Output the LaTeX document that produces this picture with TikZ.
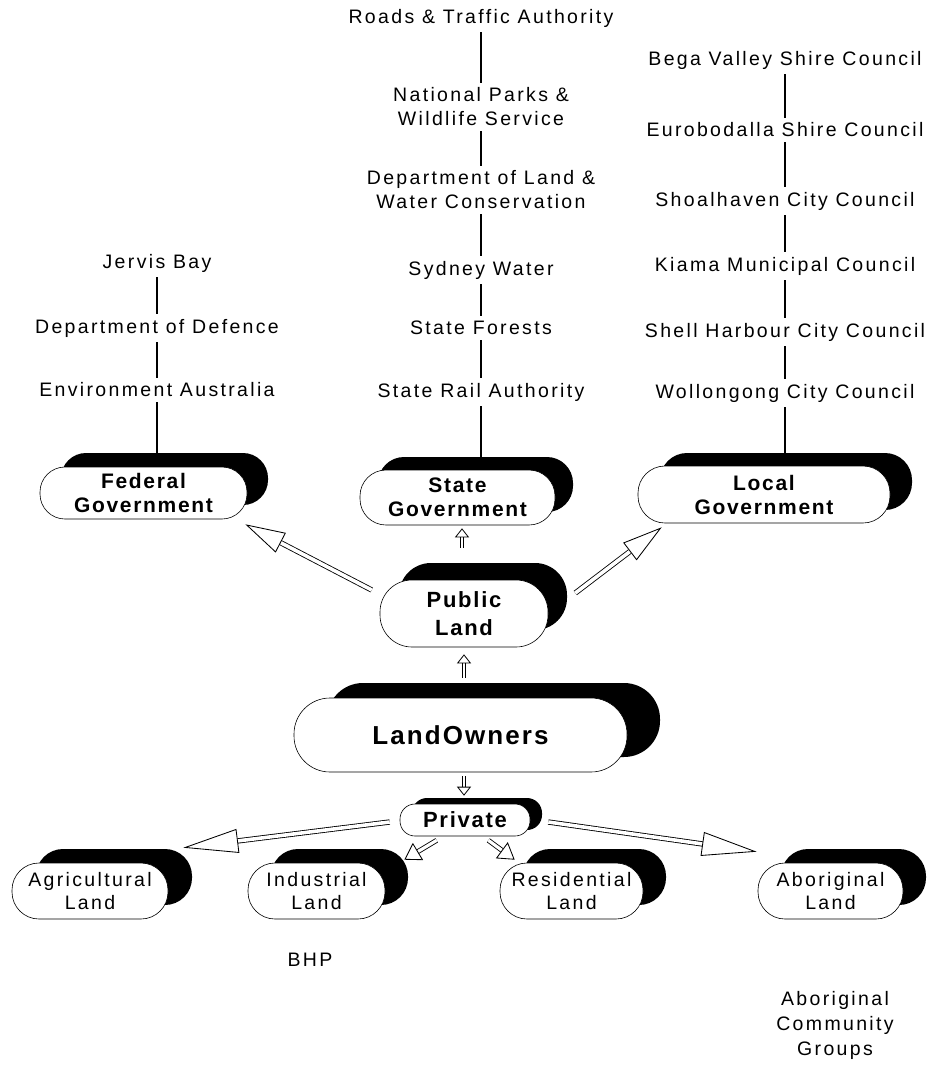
\documentclass[tikz,border=0pt]{standalone}
\usepackage{fontspec}
\setmainfont{Liberation Sans}
\newfontfamily\lab{Liberation Sans}[LetterSpace=12]
\newfontfamily\labb{Liberation Sans}[LetterSpace=8]
\usetikzlibrary{arrows.meta,shadows,calc}
\begin{document}
\begin{tikzpicture}[x=1pt,y=-1pt,
  txt/.style={font=\lab\fontsize{19.5}{24}\selectfont, align=center, inner sep=5pt},
  pill/.style={draw, fill=white, line width=0.6pt, inner sep=0pt, align=center},
  boldf/.style={font=\labb\bfseries\fontsize{21}{24}\selectfont},
  regf/.style={font=\lab\fontsize{19.5}{23.5}\selectfont},
  shad/.style 2 args={drop shadow={shadow xshift=#1pt,shadow yshift=#2pt,fill=black,opacity=1}},
  link/.style={line width=2.3pt},
  bigarrow/.style={double=white, double distance=3.6pt, line width=0.85pt,
    -{Triangle[open, fill=white, length=40pt, width=22pt, line width=0.85pt]}},
  longarrow/.style={double=white, double distance=3.6pt, line width=0.85pt,
    -{Triangle[open, fill=white, length=55pt, width=24pt, line width=0.85pt]}},
  midarrow/.style={double=white, double distance=3.2pt, line width=0.85pt,
    -{Triangle[open, fill=white, length=16pt, width=20pt, line width=0.85pt]}},
  smallarrow/.style={double=white, double distance=2.4pt, line width=0.8pt,
    -{Triangle[open, fill=white, length=9pt, width=14pt, line width=0.8pt]}}
]
\fill[white] (0,0) rectangle (927,1073);
\path[use as bounding box] (0,0) rectangle (927,1073);

% State column
\node[txt] (rta) at (481,18) {Roads \& Traffic Authority};
\node[txt] (npws) at (481,107) {National Parks \&\\Wildlife Service};
\node[txt] (dlwc) at (481,190) {Department of Land \&\\Water Conservation};
\node[txt] (sw) at (481,270) {Sydney Water};
\node[txt] (sf) at (481,328) {State Forests};
\node[txt] (sra) at (481,392) {State Rail Authority};

% Local column
\node[txt] (bega) at (785,60) {Bega Valley Shire Council};
\node[txt] (euro) at (785,130) {Eurobodalla Shire Council};
\node[txt] (shoal) at (785,201) {Shoalhaven City Council};
\node[txt] (kiama) at (785,266) {Kiama Municipal Council};
\node[txt] (shell) at (785,332) {Shell Harbour City Council};
\node[txt] (woll) at (785,393) {Wollongong City Council};

% Federal column
\node[txt] (jb) at (157,263) {Jervis Bay};
\node[txt] (dod) at (157,328) {Department of Defence};
\node[txt] (ea) at (157,390) {Environment Australia};

% Pills
\node[pill,boldf,shad={21}{14},minimum width=207pt,minimum height=52pt,rounded corners=25pt] (fed) at (143.5,493) {Federal\\Government};
\node[pill,boldf,shad={18}{13},minimum width=195pt,minimum height=55pt,rounded corners=26pt] (st) at (457.5,497.5) {State\\Government};
\node[pill,boldf,shad={22}{13},minimum width=252pt,minimum height=57pt,rounded corners=27pt] (loc) at (764,494.5) {Local\\Government};
\node[pill,font=\labb\bfseries\fontsize{22}{28}\selectfont,shad={19}{17},minimum width=168pt,minimum height=67pt,rounded corners=32pt] (pub) at (464,613.5) {Public\\Land};
\node[pill,font=\labb\bfseries\fontsize{26}{28}\selectfont,shad={33}{15},minimum width=333pt,minimum height=74pt,rounded corners=36pt] (lo) at (460.5,735) {LandOwners};
\node[pill,font=\labb\bfseries\fontsize{22}{24}\selectfont,shad={12}{6},minimum width=130pt,minimum height=32pt,rounded corners=15pt] (priv) at (465,820) {Private};

\node[pill,regf,shad={24}{14},minimum width=156pt,minimum height=56pt,rounded corners=27pt] (agr) at (90,891) {Agricultural\\Land};
\node[pill,regf,shad={23}{14},minimum width=137pt,minimum height=56pt,rounded corners=27pt] (ind) at (316.5,891) {Industrial\\Land};
\node[pill,regf,shad={23}{14},minimum width=143pt,minimum height=56pt,rounded corners=27pt] (res) at (571.5,891) {Residential\\Land};
\node[pill,regf,shad={23}{14},minimum width=145pt,minimum height=56pt,rounded corners=27pt] (abo) at (830.5,891) {Aboriginal\\Land};

\node[txt] (bhp) at (310,960) {BHP};
\node[txt,font=\lab\fontsize{19.5}{25}\selectfont] (acg) at (835,1025) {Aboriginal\\Community\\Groups};

% Links
\draw[link] (rta) -- (npws);
\draw[link] (npws) -- (dlwc);
\draw[link] (dlwc) -- (sw);
\draw[link] (sw) -- (sf);
\draw[link] (sf) -- (sra);
\draw[link] (sra) -- (sra |- st.north);

\draw[link] (bega) -- (euro);
\draw[link] (euro) -- (shoal);
\draw[link] (shoal) -- (kiama);
\draw[link] (kiama) -- (shell);
\draw[link] (shell) -- (woll);
\draw[link] (woll) -- (woll |- loc.north);

\draw[link] (jb) -- (dod);
\draw[link] (dod) -- (ea);
\draw[link] (ea) -- (ea |- fed.north);

% Arrows
\draw[bigarrow] ($(pub.west)+(-8,-23.5)$) -- ($(fed.south east)+(-2,5)$);
\draw[bigarrow] ($(pub.east)+(27,-20.5)$) -- ($(loc.south west)+(24,4)$);
\draw[smallarrow] ($(pub.north)+(-2,-32)$) -- ($(st.south)+(4.5,3)$);
\draw[smallarrow] ($(lo.north)+(3.5,-20)$) -- ($(pub.south)+(0,7)$);
\draw[smallarrow] ($(lo.south)+(3.5,4)$) -- ($(priv.north)+(-1,-8)$);
\draw[longarrow] ($(priv.west)+(-10,2)$) -- ($(agr.north east)+(15,-15)$);
\draw[midarrow] ($(priv.south west)+(37,4)$) -- ($(ind.north east)+(19,-3)$);
\draw[midarrow] ($(priv.south east)+(-42,4)$) -- ($(res.north west)+(15,-3)$);
\draw[longarrow] ($(priv.east)+(18,2)$) -- ($(abo.north west)+(-1,-11)$);
\end{tikzpicture}
\end{document}
